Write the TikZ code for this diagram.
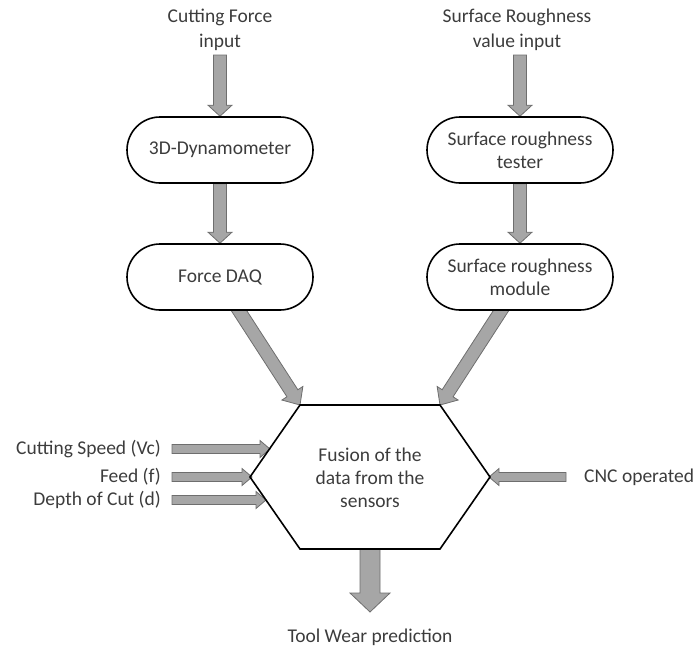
\documentclass[tikz,border=0pt]{standalone}
\usepackage{fontspec}
\setmainfont{Carlito}
\usetikzlibrary{calc,shapes.misc,backgrounds}
\definecolor{txt}{RGB}{60,60,60}
\definecolor{arrfill}{RGB}{166,166,166}
\definecolor{arrdraw}{RGB}{110,110,110}
\tikzset{
  box/.style={rounded rectangle, draw=black, line width=1.6pt, fill=white,
    minimum width=186pt, minimum height=66pt, inner sep=0pt, align=center, text=txt},
  lbl/.style={align=center, text=txt, inner sep=0pt},
  blockarrow/.style={fill=arrfill, draw=arrdraw, line width=0.8pt, line join=miter},
  hexa/.style={draw=black, line width=1.6pt, line join=miter}
}
\newcommand\barrow[5]{%
  \coordinate (bh) at ($(#2)!#5!(#1)$);
  \draw[blockarrow] ($(#1)!#3!90:(#2)$) -- ($(bh)!#3!90:(#2)$) -- ($(bh)!#4!90:(#2)$) -- (#2)
    -- ($(bh)!#4!-90:(#2)$) -- ($(bh)!#3!-90:(#2)$) -- ($(#1)!#3!-90:(#2)$) -- cycle;
}
\begin{document}
\begin{tikzpicture}[x=1pt,y=-1pt,font=\fontsize{19.5}{23}\selectfont]
\useasboundingbox (0,0) rectangle (695,648);
% texts
\node[lbl] (cfin) at (220,30) {Cutting Force\\[2pt]input};
\node[lbl] (srin) at (517,30) {Surface Roughness\\[2pt]value input};
% boxes
\node[box] (dyn) at (220,150) {3D-Dynamometer};
\node[box] (daq) at (220,277) {Force DAQ};
\node[box] (srt) at (520,150) {Surface roughness\\tester};
\node[box] (srm) at (520,277) {Surface roughness\\module};
% hexagon
\coordinate (h1) at (300,405);
\coordinate (h2) at (440,405);
\coordinate (h3) at (490,477);
\coordinate (h4) at (440,549);
\coordinate (h5) at (300,549);
\coordinate (h6) at (250,477);
\draw[hexa] (h1) -- (h2) -- (h3) -- (h4) -- (h5) -- (h6) -- cycle;
\node[lbl] (fus) at (370,478) {Fusion of the\\data from the\\sensors};
% side labels
\node[lbl, anchor=east] (vc) at (161,449) {Cutting Speed (Vc)};
\node[lbl, anchor=east] (feed) at (161,477) {Feed (f)};
\node[lbl, anchor=east] (doc) at (161,500) {Depth of Cut (d)};
\node[lbl, anchor=west] (cnc) at (584,477) {CNC operated};
\node[lbl] (twp) at (370,637) {Tool Wear prediction};
% arrow end points
\coordinate (a1) at (220,55);
\coordinate (a2) at (520,55);
\coordinate (d1) at (236,306);
\coordinate (d2) at (504,306);
\coordinate (vcs) at (172,449);
\coordinate (vce) at (270,449);
\coordinate (fs) at (172,477);
\coordinate (fe) at (252,477);
\coordinate (ds) at (172,500);
\coordinate (de) at (266,500);
\coordinate (cs) at (566,477);
\coordinate (ce) at (489,477);
\coordinate (bs) at (370,549);
\coordinate (be) at (370,612);
\begin{scope}[on background layer]
\barrow{a1}{dyn.north}{6.5pt}{12pt}{11pt}
\barrow{dyn.south}{daq.north}{6.5pt}{12pt}{11pt}
\barrow{a2}{srt.north}{6.5pt}{12pt}{11pt}
\barrow{srt.south}{srm.north}{6.5pt}{12pt}{11pt}
\barrow{d1}{h1}{6.5pt}{12.5pt}{14pt}
\barrow{d2}{h2}{6.5pt}{12.5pt}{14pt}
\barrow{vcs}{vce}{4.5pt}{8.5pt}{10pt}
\barrow{fs}{fe}{4.5pt}{8.5pt}{10pt}
\barrow{ds}{de}{4.5pt}{8.5pt}{10pt}
\barrow{cs}{ce}{4.5pt}{8.5pt}{10pt}
\barrow{bs}{be}{10pt}{20pt}{19pt}
\end{scope}
\end{tikzpicture}
\end{document}
